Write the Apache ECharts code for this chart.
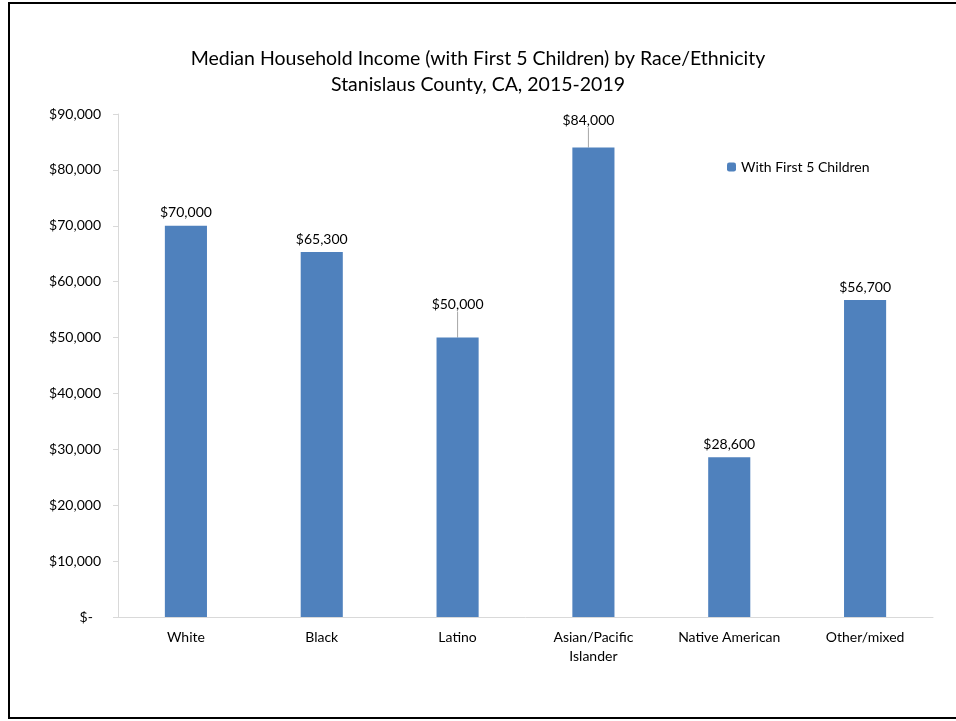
<!DOCTYPE html>
<html><head><meta charset="utf-8">
<script src="https://cdn.jsdelivr.net/npm/echarts@6/dist/echarts.min.js"></script>
<style>html,body{margin:0;padding:0;background:#fff}#c{width:956px;height:721px}</style>
</head><body><div id="c"></div>
<script>
const categories = ['White', 'Black', 'Latino', 'Asian/Pacific\nIslander', 'Native American', 'Other/mixed'];
const values = [70000, 65300, 50000, 84000, 28600, 56700];
const yTicks = [0, 10000, 20000, 30000, 40000, 50000, 60000, 70000, 80000, 90000];
const seriesName = 'With First 5 Children';
const titleLines = ['Median Household Income (with First 5 Children) by Race/Ethnicity', 'Stanislaus County, CA, 2015-2019'];

const FONT = 'Lato';
const fmt = v => v === 0 ? '$-\u2007' : '$' + v.toLocaleString('en-US');
// labels moved away from their bars (with a leader line): index -> offset
const moved = {2: {dy: -20}, 3: {dx: -5, dy: -14}};
const chart = echarts.init(document.getElementById('c'), null, {renderer: 'canvas'});
chart.setOption({
  animation: false,
  textStyle: {fontFamily: FONT},
  graphic: [{type: 'rect', shape: {x: 9, y: 3, width: 960, height: 715}, style: {fill: 'none', stroke: '#000', lineWidth: 2}, silent: true}],
  title: {
    text: titleLines.join('\n'), left: 'center', top: 41,
    textStyle: {fontFamily: FONT, fontSize: 19.5, fontWeight: 'normal', color: '#000', lineHeight: 26}
  },
  legend: {
    data: [seriesName], left: 722, top: 155, itemWidth: 9, itemHeight: 9, itemGap: 4,
    textStyle: {fontFamily: FONT, fontSize: 14, color: '#000'}
  },
  grid: {left: 118, right: 23, top: 114, bottom: 104, containLabel: false},
  xAxis: {
    type: 'category', data: categories,
    axisLine: {lineStyle: {color: '#D9D9D9'}},
    axisTick: {show: false},
    axisLabel: {fontFamily: FONT, fontSize: 14, color: '#000', margin: 11, lineHeight: 19}
  },
  yAxis: {
    type: 'value', min: yTicks[0], max: yTicks[yTicks.length - 1], interval: yTicks[1] - yTicks[0],
    axisLine: {show: true, lineStyle: {color: '#D9D9D9'}},
    axisTick: {show: true, length: 5, lineStyle: {color: '#D9D9D9'}},
    splitLine: {show: false},
    axisLabel: {fontFamily: FONT, fontSize: 14, color: '#000', margin: 17, formatter: fmt}
  },
  series: [{
    name: seriesName, type: 'bar', barWidth: '31%',
    data: values.map((v, i) => ({value: v, labelLine: {show: !!moved[i]}})),
    itemStyle: {color: '#4F81BD'},
    label: {show: true, position: 'top', distance: 6, fontFamily: FONT, fontSize: 14, color: '#000', formatter: p => fmt(p.value)},
    labelLine: {show: false, lineStyle: {color: '#A6A6A6', width: 1}},
    labelLayout: function (p) { return moved[p.dataIndex] || {}; }
  }]
});
</script></body></html>
